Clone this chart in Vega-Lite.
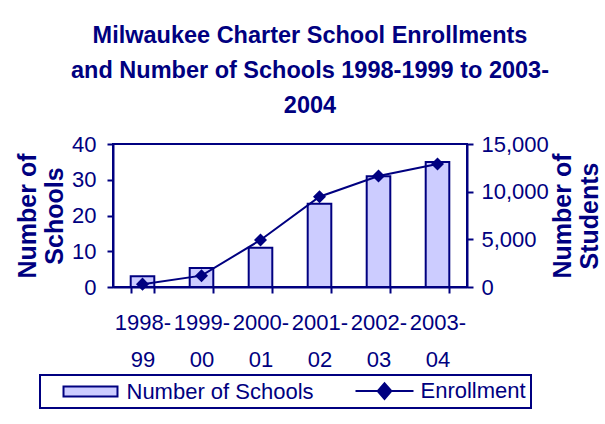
{
  "$schema": "https://vega.github.io/schema/vega-lite/v6.json",
  "autosize": {"type": "none"},
  "width": 354,
  "height": 143,
  "padding": {"left": 113, "top": 144, "right": 138, "bottom": 137},
  "background": "white",
  "config": {
    "font": "Liberation Sans",
    "view": {"stroke": "#000080", "strokeWidth": 2},
    "axis": {
      "domainColor": "#000080", "domainWidth": 2,
      "tickColor": "#000080", "tickWidth": 2, "tickSize": 6,
      "labelColor": "#000080", "labelFont": "Liberation Sans", "labelFontSize": 22,
      "titleColor": "#000080", "titleFont": "Liberation Sans", "titleFontSize": 25, "titleFontWeight": "bold",
      "grid": false
    },
    "legend": {
      "orient": "none", "legendX": -73, "legendY": 231,
      "direction": "horizontal", "columns": 2,
      "symbolSize": 170, "symbolOffset": 34.5, "labelOffset": 25, "columnPadding": 25,
      "padding": 5, "strokeColor": "#000080", "strokeWidth": 2,
      "symbolStrokeColor": "#000080", "symbolStrokeWidth": 2, "symbolOpacity": 1,
      "labelFont": "Liberation Sans", "labelFontSize": 22, "labelColor": "#000080", "labelLimit": 400
    }
  },
  "title": {
    "text": ["Milwaukee Charter School Enrollments", "and Number of Schools 1998-1999 to 2003-", "2004"],
    "font": "Liberation Sans", "fontSize": 23.5, "fontWeight": "bold", "color": "#000080",
    "anchor": "middle", "dx": 20, "lineHeight": 35, "offset": 16
  },
  "data": {
    "values": [
      {"year": "1998-99", "schools": 3, "enrollment": 300},
      {"year": "1999-00", "schools": 5.3, "enrollment": 1190},
      {"year": "2000-01", "schools": 11, "enrollment": 4930},
      {"year": "2001-02", "schools": 23.3, "enrollment": 9470},
      {"year": "2002-03", "schools": 31, "enrollment": 11640},
      {"year": "2003-04", "schools": 35, "enrollment": 12900}
    ]
  },
  "encoding": {
    "x": {
      "field": "year", "type": "nominal", "sort": null,
      "scale": {"paddingInner": 0.6, "paddingOuter": 0.3},
      "axis": {
        "title": null, "labelAngle": 0, "tickBand": "extent",
        "labelExpr": "[slice(datum.label,0,5), slice(datum.label,5)]",
        "labelLineHeight": 37, "labelPadding": 19
      }
    }
  },
  "layer": [
    {
      "mark": {"type": "bar", "stroke": "#000080", "strokeWidth": 2},
      "encoding": {
        "y": {
          "field": "schools", "type": "quantitative",
          "scale": {"domain": [0, 40], "nice": false},
          "axis": {"orient": "left", "values": [0, 10, 20, 30, 40], "title": ["Number of", "Schools"], "labelPadding": 11, "titlePadding": 4}
        },
        "fill": {
          "datum": "Number of Schools",
          "scale": {"domain": ["Number of Schools", "Enrollment"], "range": ["#ccccff", "#000080"]},
          "legend": {"title": null}
        }
      }
    },
    {
      "layer": [
        {
          "mark": {"type": "line", "color": "#000080", "strokeWidth": 2},
          "encoding": {
            "y": {
              "field": "enrollment", "type": "quantitative",
              "scale": {"domain": [0, 15000], "nice": false},
              "axis": {"orient": "right", "values": [0, 5000, 10000, 15000], "format": ",d", "title": ["Number of", "Students"], "titleAngle": 270, "labelPadding": 8, "titlePadding": 0}
            }
          }
        },
        {
          "mark": {"type": "point", "shape": "diamond", "filled": true, "size": 170, "color": "#000080", "opacity": 1},
          "encoding": {
            "y": {"field": "enrollment", "type": "quantitative"}
          }
        },
        {
          "mark": {"type": "point", "filled": true, "size": 170, "opacity": 0, "strokeWidth": 2},
          "encoding": {
            "y": {"field": "enrollment", "type": "quantitative"},
            "fill": {"datum": "Enrollment"},
            "stroke": {
              "datum": "Enrollment",
              "scale": {"domain": ["Number of Schools", "Enrollment"], "range": ["#000080", "#000080"]},
              "legend": {"title": null}
            },
            "shape": {
              "datum": "Enrollment",
              "scale": {"domain": ["Number of Schools", "Enrollment"], "range": ["M-4.14,-0.77H4.14V0.77H-4.14Z", "M-4.45,0H4.45M-1.05,0L0,-1.2L1.05,0L0,1.2Z"]},
              "legend": {"title": null}
            }
          }
        }
      ]
    }
  ],
  "resolve": {"scale": {"y": "independent"}}
}
